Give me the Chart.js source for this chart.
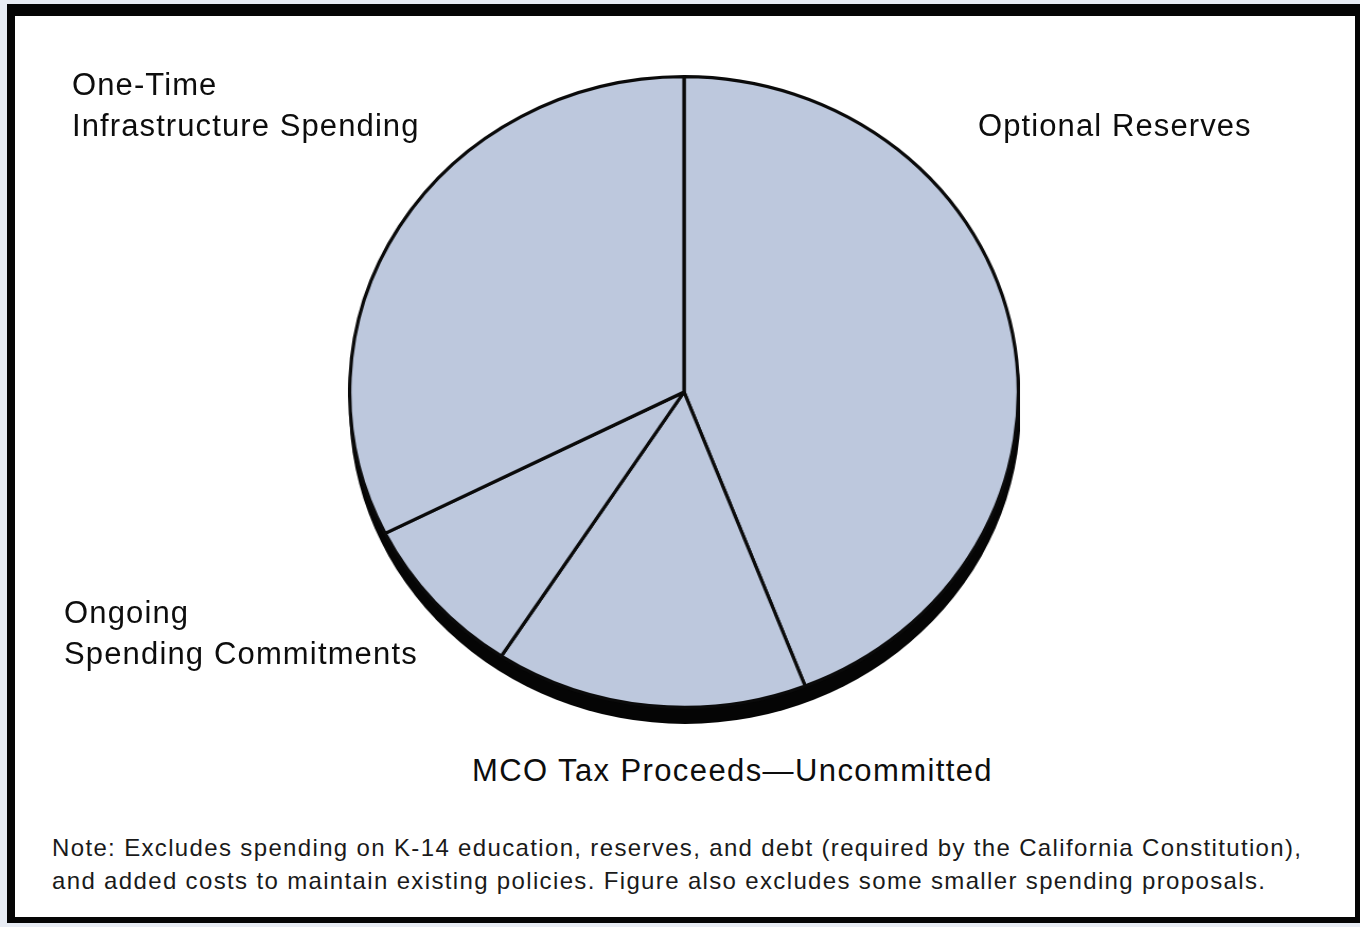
<!DOCTYPE html>
<html>
<head>
<meta charset="utf-8">
<script src="https://cdn.jsdelivr.net/npm/chart.js@4.4.1/dist/chart.umd.min.js"></script>
<style>
  html, body { margin: 0; padding: 0; }
  body { width: 1360px; height: 927px; background: #e8ecf4; position: relative; overflow: hidden;
         font-family: "Liberation Sans", Arial, Helvetica, sans-serif; color: #0d0d0d; }
  #frame { position: absolute; left: 7px; top: 4px; right: 0; bottom: 4px; background: #fff;
           border-style: solid; border-color: #050505; border-width: 12px 5px 6px 8px; box-sizing: border-box; }
  #pieBox { position: absolute; left: 367px; top: 75px; width: 634px; height: 656px;
            transform: scaleX(1.06); transform-origin: 317px 317px; }
  .lbl { position: absolute; font-size: 31px; line-height: 41px; white-space: nowrap; letter-spacing: 1.1px; }
  #note { position: absolute; left: 52px; top: 831px; font-size: 24px; line-height: 33px; white-space: nowrap; letter-spacing: 1.35px; color: #1a1a1a; }
</style>
</head>
<body>
<div id="frame"></div>
<div id="pieBox"><canvas id="pie"></canvas></div>
<div id="labels"></div>
<div id="note"></div>
<script>
// ---- data ----
const categories = ['Optional Reserves', 'MCO Tax Proceeds—Uncommitted', 'Ongoing Spending Commitments', 'One-Time Infrastructure Spending'];
const labelLines = [['Optional Reserves'], ['MCO Tax Proceeds—Uncommitted'], ['Ongoing', 'Spending Commitments'], ['One-Time', 'Infrastructure Spending']];
const shares = [44.1, 15.1, 8.4, 32.4];   // percent of total
const noteLines = [
  'Note: Excludes spending on K-14 education, reserves, and debt (required by the California Constitution),',
  'and added costs to maintain existing policies. Figure also excludes some smaller spending proposals.'
];

// ---- label layout (positions only) ----
const labelPos = [
  {left: 978, top: 105, spacing: 1.1},
  {left: 472, top: 750, spacing: 1.4},
  {left: 64, top: 592, spacing: 1.15},
  {left: 72, top: 64, spacing: 1.1}
];
const labelsDiv = document.getElementById('labels');
labelLines.forEach((lines, i) => {
  const d = document.createElement('div');
  d.className = 'lbl';
  d.style.left = labelPos[i].left + 'px';
  d.style.top = labelPos[i].top + 'px';
  d.style.letterSpacing = labelPos[i].spacing + 'px';
  d.innerHTML = lines.map(s => s.replace(/&/g, '&amp;').replace(/</g, '&lt;')).join('<br>');
  labelsDiv.appendChild(d);
});
document.getElementById('note').innerHTML = noteLines.join('<br>');

// ---- shadow plugin ----
const shadowPlugin = {
  id: 'pieShadow',
  beforeDatasetsDraw(chart) {
    const arc = chart.getDatasetMeta(0).data[0];
    if (!arc) return;
    const ctx = chart.ctx;
    ctx.save();
    ctx.beginPath();
    ctx.arc(arc.x + 1, arc.y + 15, arc.outerRadius + 1.5, 0, Math.PI * 2);
    ctx.fillStyle = '#050505';
    ctx.fill();
    ctx.restore();
  }
};

new Chart(document.getElementById('pie'), {
  type: 'pie',
  data: {
    labels: categories,
    datasets: [{
      data: shares,
      backgroundColor: '#bdc8dd',
      borderColor: '#0a0a0a',
      borderWidth: 3.2,
      hoverOffset: 0
    }]
  },
  options: {
    responsive: true,
    maintainAspectRatio: false,
    animation: false,
    layout: { padding: { bottom: 22 } },
    plugins: { legend: { display: false }, tooltip: { enabled: false } },
    events: []
  },
  plugins: [shadowPlugin]
});
</script>
</body>
</html>
